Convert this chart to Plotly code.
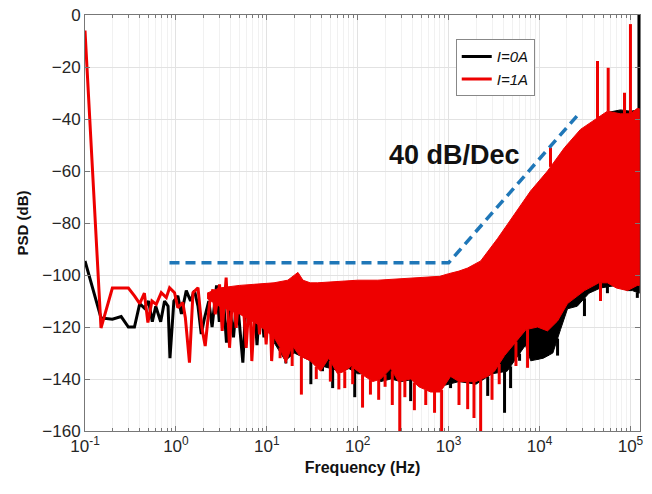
import numpy as np
import plotly.graph_objects as go

# ---------------- data ----------------
# individual PSD lines at low frequency (sparse part)
black_line_f = [0.1, 0.15, 0.2, 0.25, 0.3, 0.35, 0.4, 0.45, 0.5, 0.55, 0.6, 0.68, 0.75, 0.82, 0.86, 0.95,
                1.05, 1.15, 1.3, 1.45, 1.6, 1.75, 1.9, 2.05, 2.3, 2.5, 2.8, 3.0, 3.3, 3.6, 3.9, 4.3, 4.7,
                5.45, 5.9, 6.5, 7.2, 7.8, 8.5, 9.3, 10, 11, 12]
black_line_db = [-94.6, -116.5, -117, -116, -120, -120, -111, -112.7, -110, -118, -112, -118, -110, -112,
                 -132, -110, -108, -115, -106, -110, -106, -112, -122.7, -117, -110, -120, -104, -118, -107,
                 -126, -112, -124, -108, -133.7, -110, -118, -107, -127, -108, -124, -108, -121, -106]

red_line_f = [0.1, 0.15, 0.2, 0.25, 0.3, 0.35, 0.4, 0.45, 0.492, 0.545, 0.608, 0.690, 0.784, 0.852, 0.966,
              1.05, 1.19, 1.27, 1.41, 1.54, 1.75, 1.93, 2.10, 2.35, 2.55, 2.71, 3.02, 3.23, 3.57, 3.89,
              4.23, 4.60, 5.01, 5.45, 5.93, 6.45, 6.84, 7.62, 8.31, 9.04, 9.83, 10.7, 11.3, 12.6]
red_line_db = [-6, -120.4, -105, -105, -105, -108, -111, -107, -118.3, -110, -111.3, -106.8, -108.7, -104.9,
               -106.8, -112.6, -110.6, -116.4, -133.7, -106.8, -104.9, -120.3, -127.3, -110.6, -105.5,
               -115.1, -103.6, -121.5, -101, -128, -105.5, -120.3, -104.2, -108.7, -128, -106.8, -133.1,
               -103.6, -122.8, -105.5, -126.7, -106.2, -133.1, -104.9]

# dense part: upper / lower envelopes
red_hi_f = [2.2, 3, 5, 8, 12, 17, 22, 25, 30, 36, 60, 100, 166, 290, 500, 800, 1000, 1300, 1620, 2250,
            3450, 5300, 7960, 12240, 18840, 28200, 43400, 55800, 77600, 100000, 118000, 125000]
red_hi_db = [-107, -105, -104, -103.5, -103, -102, -99, -102, -103, -103, -102.5, -102, -102, -101.5, -101,
             -100.5, -99.5, -98.5, -97.3, -94.6, -86, -76.5, -67.7, -60, -51, -44, -39.6, -37, -38, -38,
             -36, -36]
red_lo_f = [2.2, 3, 5, 8, 12, 14, 16.2, 19, 22.8, 30, 39, 48, 60, 72, 85, 109, 146, 179, 231, 280, 382,
            470, 634, 810, 1050, 1300, 1560, 2000, 2690, 3200, 4120, 4800, 6030, 7100, 9500, 12240, 15780,
            20300, 31200, 45000, 55800, 70000, 92700, 119000, 125000]
red_lo_db = [-109, -112, -115, -119, -124, -128, -134, -127, -131, -133, -137, -132, -138, -137, -135, -138,
             -141, -140, -136, -141, -140, -143, -145, -145, -139, -141, -141, -141, -139, -137, -131, -128,
             -124, -121, -120, -121.5, -117.7, -111, -106, -103, -103, -105, -106, -104, -104]

black_hi_f = [12, 30, 100, 300, 1000, 1620, 2250, 3450, 5300, 7960, 12240, 18840, 28200, 43400, 55800,
              77600, 100000, 118000, 125000]
black_hi_db = [-104, -104, -103, -102.5, -100.5, -98, -95.5, -87, -77.5, -68.5, -61, -52, -45, -40, -37.5,
               -36.5, -37, -36.5, -36.5]
black_lo_f = [12, 16, 20, 40, 65, 80, 100, 140, 179, 231, 300, 430, 600, 750, 1300, 2000, 3000, 4400, 5300,
              7000, 8000, 11000, 14000, 17000, 20300, 26000, 35000, 46800, 70000, 92700, 105000, 125000]
black_lo_db = [-126, -133, -130, -135, -137, -136, -138, -138, -141, -140, -141, -140, -144, -143, -141, -142,
               -138, -137, -133, -127, -133, -132, -130, -121, -113, -112, -107, -105, -104, -106, -106, -107]

# narrow downward spikes
red_dip_f = [14, 19, 24, 35, 50, 62, 72, 88, 113, 138, 170, 200, 240, 290, 330, 420, 560, 700, 837,
             1300, 1620, 1900, 2250, 3000, 3600, 5500, 7380, 46800]
red_dip_db = [-132, -135, -146, -140, -141, -144, -143.5, -142, -151, -146, -148, -143, -150, -160, -147,
              -152, -150, -153, -160, -150, -151.6, -155, -160, -148, -142, -135, -135.7, -110]
black_dip_f = [16.2, 30.5, 41, 53, 92.7, 382, 1050, 2690, 4120, 4800, 6030, 9500, 12240, 15780, 31200,
               55800, 119000]
black_dip_db = [-134, -142, -137, -143.5, -147, -148.5, -143.5, -146.5, -153, -143.5, -133, -132.3, -125.4,
                -131, -115.8, -107, -108.8]

# narrow upward spikes
red_peak_f = [13200, 43400, 56900, 86000, 100000]
red_peak_db = [-51, -17.7, -20.3, -29.9, -3.5]
black_peak_f = [124000]
black_peak_db = [0]

# 40 dB/dec guide line
guide_f = [0.85, 1000, 28000]
guide_db = [-95.3, -95.3, -37.4]

x_tick_vals = [0.1, 1, 10, 100, 1000, 10000, 100000]
x_tick_text = ["10<sup>-1</sup>", "10<sup>0</sup>", "10<sup>1</sup>", "10<sup>2</sup>",
               "10<sup>3</sup>", "10<sup>4</sup>", "10<sup>5</sup>"]
y_tick_vals = [0, -20, -40, -60, -80, -100, -120, -140, -160]

RED = "rgb(238,0,0)"
BLACK = "#000000"
BLUE = "#1f77b8"


def segments(fs, dbs, env_f, env_db):
    xs, ys = [], []
    lf = np.log10(env_f)
    for f, d in zip(fs, dbs):
        base = float(np.interp(np.log10(f), lf, env_db))
        xs += [f, f, None]
        ys += [base, d, None]
    return xs, ys


fig = go.Figure()


def add_series(name, color, line_f, line_db, hi_f, hi_db, lo_f, lo_db, dip_f, dip_db, pk_f, pk_db):
    fig.add_trace(go.Scatter(x=hi_f + lo_f[::-1], y=hi_db + lo_db[::-1], fill="toself",
                             fillcolor=color, mode="lines", line=dict(color=color, width=1),
                             showlegend=False, hoverinfo="skip"))
    dx, dy = segments(dip_f, dip_db, lo_f, lo_db)
    fig.add_trace(go.Scatter(x=dx, y=dy, mode="lines", line=dict(color=color, width=3),
                             showlegend=False, hoverinfo="skip"))
    px, py = segments(pk_f, pk_db, hi_f, hi_db)
    fig.add_trace(go.Scatter(x=px, y=py, mode="lines", line=dict(color=color, width=3),
                             showlegend=False, hoverinfo="skip"))
    fig.add_trace(go.Scatter(x=line_f, y=line_db, mode="lines", name=name,
                             line=dict(color=color, width=3)))


add_series("<i>I=0A</i>", BLACK, black_line_f, black_line_db, black_hi_f, black_hi_db, black_lo_f,
           black_lo_db, black_dip_f, black_dip_db, black_peak_f, black_peak_db)
add_series("<i>I=1A</i>", RED, red_line_f, red_line_db, red_hi_f, red_hi_db, red_lo_f,
           red_lo_db, red_dip_f, red_dip_db, red_peak_f, red_peak_db)

fig.add_trace(go.Scatter(x=guide_f, y=guide_db, mode="lines", showlegend=False,
                         line=dict(color=BLUE, width=3.5, dash="10px,6px")))

minor_vals = [m * 10.0 ** k for k in range(-1, 6) for m in range(2, 10) if m * 10.0 ** k < 130000]

fig.add_annotation(x=3.06, y=-53.8, text="<b>40 dB/Dec</b>", showarrow=False,
                   font=dict(family="Liberation Sans", size=27, color="#111"))

axis_common = dict(showline=True, linecolor="#777", linewidth=1, mirror="allticks", ticks="inside",
                   tickcolor="#777", ticklen=5, zeroline=False, automargin=False,
                   ticklabeloverflow="allow",
                   tickfont=dict(family="Liberation Sans", size=17, color="#262626"))

fig.update_layout(
    width=652, height=494,
    margin=dict(l=77, r=20, t=7, b=71),
    paper_bgcolor="white", plot_bgcolor="white",
    font=dict(family="Liberation Sans", color="#111"),
    legend=dict(x=0.668, y=0.942, xanchor="left", yanchor="top", bgcolor="white",
                bordercolor="#888", borderwidth=1, itemwidth=30, tracegroupgap=0,
                font=dict(family="Liberation Sans", size=15, color="#111")),
    xaxis=dict(type="log", range=[-1, 5.105], tickvals=x_tick_vals, ticktext=x_tick_text,
               gridcolor="#e2e2e2", gridwidth=1,
               minor=dict(tickvals=minor_vals, ticks="inside", ticklen=3, tickcolor="#777",
                          showgrid=True, gridcolor="#f1f1f1"),
               title=dict(text="<b>Frequency (Hz)</b>", font=dict(size=16, color="#111"), standoff=6),
               **axis_common),
    yaxis=dict(range=[-160, 0], tickvals=y_tick_vals, gridcolor="#e2e2e2", gridwidth=1,
               title=dict(text="<b>PSD (dB)</b>", font=dict(size=15, color="#111"), standoff=10),
               **axis_common),
)

fig.write_html("out.html")
